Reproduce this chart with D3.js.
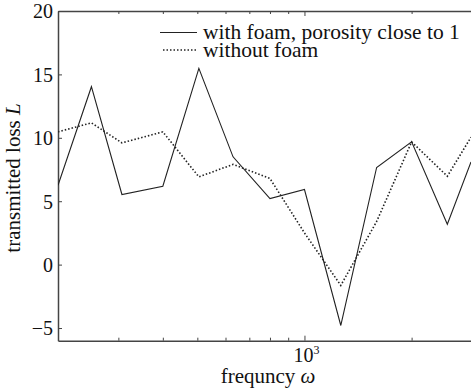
<!DOCTYPE html>
<html lang="en">
  <head>
    <meta charset="UTF-8">
    <title>transmitted loss</title>
    <script src="https://d3js.org/d3.v7.min.js"></script>
    <style>
      body { margin: 0; background-color: white; }
      svg text { font-family: "Liberation Serif", "DejaVu Serif", serif !important; fill: #111; }
    </style>
  </head>
  <body>
    <script>

      // frequencies
      const freqs = [203, 252, 307, 400, 505, 630, 800, 1000, 1265, 1595, 2000, 2520, 2937];
      const withFoam = [6.26, 14.03, 5.53, 6.18, 15.48, 8.5, 5.21, 5.92, -4.8, 7.66, 9.68, 3.18, 8.1];
      const withoutFoam = [10.47, 11.18, 9.6, 10.47, 6.92, 7.9, 6.79, 2.5, -1.64, 3.4, 9.68, 6.97, 10.05];
      const yTicks = [-5, 0, 5, 10, 15, 20];
      const minorTicks = [300, 400, 500, 600, 700, 800, 900, 2000];
      const majorTicks = [1000];
      const seriesNames = ["with foam, porosity close to 1", "without foam"];

      const w = 471;
      const h = 391;
      const mLeft = 58, mRight = 471, mTop = 11, mBottom = 340.7;

      const svg = d3.select("body")
                    .append("svg")
                    .attr("width", w)
                    .attr("height", h);

      const x = d3.scaleLog().domain([203, 2937]).range([mLeft, mRight]);
      const y = d3.scaleLinear().domain([-6, 20]).range([mBottom, mTop]);

      svg.append("clipPath").attr("id", "plot")
         .append("rect")
         .attr("x", mLeft).attr("y", mTop)
         .attr("width", mRight - mLeft).attr("height", mBottom - mTop);

      const axisColor = "#444";

      // bottom axis
      svg.append("g")
         .attr("transform", `translate(0,${mBottom})`)
         .call(d3.axisBottom(x).tickValues(minorTicks).tickSizeInner(-3).tickSizeOuter(0).tickFormat(""));
      svg.append("g")
         .attr("transform", `translate(0,${mBottom})`)
         .call(d3.axisBottom(x).tickValues(majorTicks).tickSizeInner(-5).tickSizeOuter(0).tickFormat(""))
         .select(".domain").remove();

      // top axis
      svg.append("g")
         .attr("transform", `translate(0,${mTop})`)
         .call(d3.axisTop(x).tickValues(minorTicks).tickSizeInner(-3).tickSizeOuter(0).tickFormat(""));
      svg.append("g")
         .attr("transform", `translate(0,${mTop})`)
         .call(d3.axisTop(x).tickValues(majorTicks).tickSizeInner(-5).tickSizeOuter(0).tickFormat(""))
         .select(".domain").remove();

      // left axis
      const gl = svg.append("g")
                    .attr("transform", `translate(${mLeft},0)`)
                    .call(d3.axisLeft(y).tickValues(yTicks).tickSizeInner(-4).tickSizeOuter(0).tickPadding(5));
      gl.selectAll("text")
        .style("font-size", "20px")
        .attr("dy", "0.34em");

      svg.selectAll(".domain").attr("stroke", axisColor).attr("stroke-width", 1.5);
      svg.selectAll(".tick line").attr("stroke", axisColor);

      // 10^3 label
      const lab = svg.append("text")
                     .attr("x", x(1000) + 2)
                     .attr("y", 362)
                     .attr("text-anchor", "middle")
                     .style("font-size", "20px");
      lab.append("tspan").text("10");
      lab.append("tspan").attr("dy", -8).style("font-size", "12px").text("3");

      // axis titles
      const xt = svg.append("text")
                    .attr("x", 268)
                    .attr("y", 383)
                    .attr("text-anchor", "middle")
                    .style("font-size", "21px");
      xt.append("tspan").text("frequncy ");
      xt.append("tspan").style("font-style", "italic").text("ω");

      const yt = svg.append("text")
                    .attr("transform", "rotate(-90)")
                    .attr("x", -178)
                    .attr("y", 20)
                    .attr("text-anchor", "middle")
                    .style("font-size", "21px");
      yt.append("tspan").text("transmitted loss ");
      yt.append("tspan").style("font-style", "italic").text("L");

      // lines
      const line = d3.line()
                     .x((d, i) => x(freqs[i]))
                     .y(d => y(d));

      const plot = svg.append("g").attr("clip-path", "url(#plot)");

      plot.append("path")
          .datum(withFoam)
          .attr("d", line)
          .attr("fill", "none")
          .attr("stroke", "#222")
          .attr("stroke-width", 1.1);

      plot.append("path")
          .datum(withoutFoam)
          .attr("d", line)
          .attr("fill", "none")
          .attr("stroke", "#222")
          .attr("stroke-width", 1.6)
          .attr("stroke-dasharray", "1.5,2");

      // legend
      const legend = svg.append("g");
      legend.append("line")
            .attr("x1", 160).attr("x2", 197)
            .attr("y1", 32.5).attr("y2", 32.5)
            .attr("stroke", "#222").attr("stroke-width", 1.1);
      legend.append("line")
            .attr("x1", 163).attr("x2", 197)
            .attr("y1", 50).attr("y2", 50)
            .attr("stroke", "#222").attr("stroke-width", 1.6)
            .attr("stroke-dasharray", "1.5,2");
      legend.selectAll("text.leg")
            .data(seriesNames)
            .enter()
            .append("text")
            .attr("class", "leg")
            .attr("x", 203)
            .attr("y", (d, i) => 38.5 + i * 18.5)
            .style("font-size", "21.5px")
            .text(d => d);
    </script>
  </body>
</html>
